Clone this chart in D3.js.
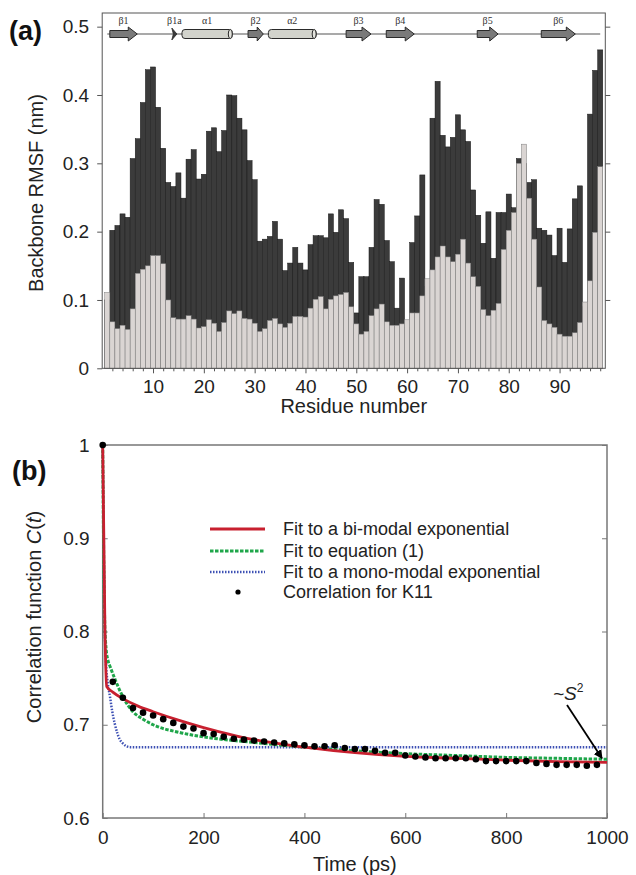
<!DOCTYPE html>
<html>
<head>
<meta charset="utf-8">
<script src="https://cdn.jsdelivr.net/npm/d3@7"></script>
<style>
  body { margin: 0; background: #fff; }
  svg { display: block; font-family: "Liberation Sans", Arial, Helvetica, sans-serif; }
</style>
</head>
<body>
<svg id="chart" width="636" height="875"></svg>
<script>
// ---------- panel (a): backbone RMSF per residue ----------
const residues = d3.range(1, 99);
const rmsfDark = [
  0.100, 0.202, 0.209, 0.226, 0.221, 0.307, 0.336, 0.389, 0.437, 0.441,
  0.382, 0.322, 0.272, 0.266, 0.286, 0.249, 0.306, 0.320, 0.277, 0.284,
  0.347, 0.352, 0.317, 0.348, 0.400, 0.399, 0.366, 0.349, 0.304, 0.276,
  0.186, 0.189, 0.193, 0.215, 0.189, 0.143, 0.154, 0.177, 0.154, 0.144,
  0.181, 0.194, 0.194, 0.191, 0.226, 0.199, 0.232, 0.219, 0.155, 0.081,
  0.134, 0.134, 0.177, 0.247, 0.240, 0.187, 0.156, 0.088, 0.132, 0.060,
  0.184, 0.223, 0.283, 0.120, 0.366, 0.420, 0.341, 0.324, 0.338, 0.371,
  0.349, 0.332, 0.261, 0.224, 0.183, 0.229, 0.161, 0.228, 0.228, 0.255,
  0.235, 0.307, 0.300, 0.272, 0.276, 0.205, 0.202, 0.195, 0.165, 0.205,
  0.155, 0.204, 0.248, 0.267, 0.090, 0.372, 0.436, 0.466
];
const rmsfLight = [
  0.111, 0.068, 0.058, 0.063, 0.057, 0.087, 0.139, 0.145, 0.150, 0.165,
  0.165, 0.153, 0.100, 0.074, 0.072, 0.072, 0.077, 0.072, 0.059, 0.061,
  0.071, 0.066, 0.054, 0.067, 0.084, 0.080, 0.084, 0.073, 0.072, 0.066,
  0.054, 0.058, 0.070, 0.073, 0.065, 0.060, 0.066, 0.076, 0.076, 0.075,
  0.088, 0.101, 0.105, 0.087, 0.101, 0.106, 0.108, 0.111, 0.090, 0.065,
  0.050, 0.054, 0.077, 0.087, 0.094, 0.068, 0.063, 0.063, 0.065, 0.071,
  0.081, 0.081, 0.106, 0.131, 0.144, 0.163, 0.179, 0.163, 0.156, 0.167,
  0.189, 0.154, 0.134, 0.120, 0.086, 0.077, 0.085, 0.095, 0.174, 0.202,
  0.228, 0.300, 0.328, 0.249, 0.189, 0.119, 0.070, 0.065, 0.060, 0.050,
  0.047, 0.047, 0.052, 0.067, 0.097, 0.128, 0.199, 0.295
];
const rmsfTicks = [0, 0.1, 0.2, 0.3, 0.4, 0.5];
const residueTicks = [10, 20, 30, 40, 50, 60, 70, 80, 90];

// secondary structure track (residue numbers)
const ssType  = ["strand", "head", "helix", "strand", "helix", "strand", "strand", "strand", "strand"];
const ssStart = [1.5, 13.7, 15.7, 28.7, 32.7, 48.0, 55.9, 73.8, 86.4];
const ssEnd   = [6.9, 14.7, 25.6, 31.7, 42.1, 52.9, 61.4, 77.9, 93.1];
const ssLabel = ["β1", "β1a", "α1", "β2", "α2", "β3", "β4", "β5", "β6"];
const ssSpan  = [1, 98];

// ---------- panel (b): correlation function ----------
const biTime = [0, 4.5, 8, 20, 40, 70, 100, 150, 200, 250, 300, 400, 500, 600, 700, 800, 900, 1000];
const biC    = [1, 0.80, 0.741, 0.735, 0.728, 0.720, 0.714, 0.705, 0.697, 0.690, 0.684, 0.676, 0.670, 0.666, 0.664, 0.662, 0.6605, 0.6597];

const eqTime = [0, 2, 4, 7, 10, 15, 25, 40, 60, 80, 100, 150, 200, 300, 400, 500, 600, 700, 800, 900, 1000];
const eqC    = [1, 0.88, 0.81, 0.78, 0.77, 0.762, 0.748, 0.730, 0.714, 0.706, 0.700, 0.692, 0.687, 0.681, 0.676, 0.672, 0.669, 0.667, 0.665, 0.664, 0.663];

const monoTime = [0, 3, 6.5, 10, 14.5, 19, 24, 29, 34, 40, 47, 55, 1000];
const monoC    = [1, 0.84, 0.766, 0.745, 0.730, 0.714, 0.701, 0.691, 0.684, 0.680, 0.677, 0.676, 0.676];

const corrTime = [0, 20, 40, 60, 80, 100, 120, 140, 160, 180, 200, 220, 240, 260, 280, 300, 320, 340, 360, 380,
  400, 420, 440, 460, 480, 500, 520, 540, 560, 580, 600, 620, 640, 660, 680, 700, 720, 740, 760, 780,
  800, 820, 840, 860, 880, 900, 920, 940, 960, 980];
const corrC = [1, 0.746, 0.729, 0.718, 0.713, 0.710, 0.706, 0.702, 0.698, 0.696, 0.691, 0.690, 0.687, 0.685, 0.684,
  0.683, 0.682, 0.681, 0.680, 0.679, 0.678, 0.677, 0.677, 0.678, 0.675, 0.674, 0.674, 0.672, 0.670, 0.670,
  0.667, 0.666, 0.665, 0.664, 0.664, 0.664, 0.664, 0.663, 0.661, 0.661, 0.661, 0.661, 0.661, 0.659, 0.658,
  0.657, 0.657, 0.657, 0.656, 0.657];
const corrTicksY = [0.6, 0.7, 0.8, 0.9, 1];
const timeTicks = [0, 200, 400, 600, 800, 1000];

const legendNames  = ["Fit to a bi-modal exponential", "Fit to equation (1)", "Fit to a mono-modal exponential", "Correlation for K11"];
const legendColors = ["#c8202f", "#1fa64a", "#3d50b4", "#000"];

// ---------- drawing ----------
const svg = d3.select("#chart");
svg.append("rect").attr("width", 636).attr("height", 875).attr("fill", "#fff");

const tickFont = 19, titleFont = 20;
const styleAxis = (g, color) => {
  g.select(".domain").remove();
  g.selectAll(".tick line").attr("stroke", color);
  g.selectAll("text").attr("font-size", tickFont).attr("fill", "#222")
    .attr("font-family", "'Liberation Sans', Arial, sans-serif");
  g.attr("font-family", null).attr("font-size", null);
};

// panel (a)
const xA = d3.scaleLinear().domain([0, 99]).range([102.2, 605.3]);
const yA = d3.scaleLinear().domain([0, 0.52]).range([368.3, 13]);
const gA = svg.append("g");

gA.append("g").selectAll("rect").data(residues).join("rect")
  .attr("x", d => xA(d - 0.5))
  .attr("width", d => xA(d + 0.5) - xA(d - 0.5))
  .attr("y", (d, i) => yA(rmsfDark[i]))
  .attr("height", (d, i) => yA(0) - yA(rmsfDark[i]))
  .attr("fill", "#3b3b3b").attr("stroke", "#161616").attr("stroke-width", 0.5);

gA.append("g").selectAll("rect").data(residues).join("rect")
  .attr("x", d => xA(d - 0.5))
  .attr("width", d => xA(d + 0.5) - xA(d - 0.5))
  .attr("y", (d, i) => yA(rmsfLight[i]))
  .attr("height", (d, i) => yA(0) - yA(rmsfLight[i]))
  .attr("fill", "#dad5d3").attr("stroke", "#7d7d7d").attr("stroke-width", 0.5);

gA.append("rect")
  .attr("x", xA(0)).attr("y", yA(0.52))
  .attr("width", xA(99) - xA(0)).attr("height", yA(0) - yA(0.52))
  .attr("fill", "none").attr("stroke", "#555").attr("stroke-width", 1);

gA.append("g").attr("transform", `translate(${xA(0)},0)`)
  .call(d3.axisLeft(yA).tickValues(rmsfTicks).tickSize(5).tickPadding(8)
    .tickFormat(d => d === 0 ? "0" : d3.format(".1f")(d)))
  .call(g => styleAxis(g, "#555"));

gA.append("g").attr("transform", `translate(${xA(99)},0)`)
  .call(d3.axisRight(yA).tickValues(rmsfTicks.slice(1)).tickSize(5).tickFormat(""))
  .call(g => styleAxis(g, "#555"));

gA.append("g").attr("transform", `translate(0,${yA(0)})`)
  .call(d3.axisBottom(xA).tickValues(d3.range(2, 99, 2).filter(d => d % 10)).tickSize(3).tickFormat(""))
  .call(g => styleAxis(g, "#555"));

gA.append("g").attr("transform", `translate(0,${yA(0)})`)
  .call(d3.axisBottom(xA).tickValues(residueTicks).tickSize(5).tickPadding(6).tickFormat(d3.format("d")))
  .call(g => styleAxis(g, "#555"));

// secondary structure track
const ssY = 34;
const ssG = gA.append("g");
ssG.append("line")
  .attr("x1", xA(ssSpan[0])).attr("x2", xA(ssSpan[1]))
  .attr("y1", ssY).attr("y2", ssY)
  .attr("stroke", "#555").attr("stroke-width", 1.2);

ssType.forEach((t, i) => {
  const x0 = xA(ssStart[i]), x1 = xA(ssEnd[i]);
  if (t === "strand") {
    const hl = Math.min(9, (x1 - x0) * 0.4);
    const p = d3.path();
    p.moveTo(x0, ssY - 3.5); p.lineTo(x1 - hl, ssY - 3.5); p.lineTo(x1 - hl, ssY - 7);
    p.lineTo(x1, ssY); p.lineTo(x1 - hl, ssY + 7); p.lineTo(x1 - hl, ssY + 3.5);
    p.lineTo(x0, ssY + 3.5); p.closePath();
    ssG.append("path").attr("d", p.toString())
      .attr("fill", "#7a7a7a").attr("stroke", "#2a2a2a").attr("stroke-width", 1);
  } else if (t === "head") {
    const p = d3.path();
    p.moveTo(x0, ssY - 6); p.lineTo(x1, ssY); p.lineTo(x0, ssY + 6);
    p.lineTo(x0 + 1.5, ssY); p.closePath();
    ssG.append("path").attr("d", p.toString())
      .attr("fill", "#3a3a3a").attr("stroke", "#2a2a2a").attr("stroke-width", 0.8);
  } else {
    ssG.append("rect")
      .attr("x", x0).attr("y", ssY - 4.5).attr("width", x1 - x0).attr("height", 9).attr("rx", 3)
      .attr("fill", "#d2d3cc").attr("stroke", "#2a2a2a").attr("stroke-width", 1);
    ssG.append("ellipse")
      .attr("cx", x1 - 2).attr("cy", ssY).attr("rx", 2).attr("ry", 4.5)
      .attr("fill", "#e4e4de").attr("stroke", "#2a2a2a").attr("stroke-width", 1);
  }
  ssG.append("text")
    .attr("x", (x0 + x1) / 2).attr("y", ssY - 10)
    .attr("text-anchor", "middle")
    .attr("font-family", "'Liberation Serif', 'DejaVu Serif', serif")
    .attr("font-size", 10).attr("fill", "#333")
    .text(ssLabel[i]);
});

gA.append("text")
  .attr("transform", "translate(38,193) rotate(-90)")
  .attr("text-anchor", "middle").attr("dominant-baseline", "middle")
  .attr("font-size", titleFont).attr("fill", "#222")
  .text("Backbone RMSF (nm)");

gA.append("text")
  .attr("x", (xA(0) + xA(99)) / 2).attr("y", 413)
  .attr("text-anchor", "middle")
  .attr("font-size", titleFont).attr("fill", "#222")
  .text("Residue number");

gA.append("text")
  .attr("x", 9).attr("y", 40)
  .attr("font-size", 27).attr("font-weight", "bold").attr("fill", "#111")
  .text("(a)");

// panel (b)
const xB = d3.scaleLinear().domain([0, 1000]).range([102.7, 607]);
const yB = d3.scaleLinear().domain([0.6, 1]).range([818, 445]);
const gB = svg.append("g");

gB.append("rect")
  .attr("x", xB(0)).attr("y", yB(1))
  .attr("width", xB(1000) - xB(0)).attr("height", yB(0.6) - yB(1))
  .attr("fill", "none").attr("stroke", "#777").attr("stroke-width", 1.5);

gB.append("g").attr("transform", `translate(${xB(0)},0)`)
  .call(d3.axisLeft(yB).tickValues(corrTicksY).tickSize(-5).tickPadding(13)
    .tickFormat(d => d === 1 ? "1" : d3.format(".1f")(d)))
  .call(g => styleAxis(g, "#777"));

gB.append("g").attr("transform", `translate(${xB(1000)},0)`)
  .call(d3.axisRight(yB).tickValues(corrTicksY).tickSize(-5).tickFormat(""))
  .call(g => styleAxis(g, "#777"));

gB.append("g").attr("transform", `translate(0,${yB(0.6)})`)
  .call(d3.axisBottom(xB).tickValues(timeTicks).tickSize(-5).tickPadding(13).tickFormat(d3.format("d")))
  .call(g => styleAxis(g, "#777"));

const lineB = (ts, cs) => d3.line()
  .x((d, i) => xB(ts[i])).y((d, i) => yB(cs[i]))
  .curve(d3.curveMonotoneX)(ts);

gB.append("path").attr("d", lineB(monoTime, monoC))
  .attr("fill", "none").attr("stroke", legendColors[2]).attr("stroke-width", 2.5)
  .attr("stroke-dasharray", "1.5,1.5");
gB.append("path").attr("d", lineB(eqTime, eqC))
  .attr("fill", "none").attr("stroke", legendColors[1]).attr("stroke-width", 3)
  .attr("stroke-dasharray", "3.5,1.5");
gB.append("path").attr("d", lineB(biTime, biC))
  .attr("fill", "none").attr("stroke", legendColors[0]).attr("stroke-width", 2.8);

gB.append("g").selectAll("circle").data(corrTime).join("circle")
  .attr("cx", d => xB(d)).attr("cy", (d, i) => yB(corrC[i]))
  .attr("r", 3.3).attr("fill", "#000");

// legend
const legY = [529, 551, 572, 592];
const leg = gB.append("g");
leg.append("line").attr("x1", 210).attr("x2", 265).attr("y1", legY[0]).attr("y2", legY[0])
  .attr("stroke", legendColors[0]).attr("stroke-width", 3);
leg.append("line").attr("x1", 210).attr("x2", 265).attr("y1", legY[1]).attr("y2", legY[1])
  .attr("stroke", legendColors[1]).attr("stroke-width", 3).attr("stroke-dasharray", "3.5,1.5");
leg.append("line").attr("x1", 210).attr("x2", 265).attr("y1", legY[2]).attr("y2", legY[2])
  .attr("stroke", legendColors[2]).attr("stroke-width", 2.5).attr("stroke-dasharray", "1.5,1.5");
leg.append("circle").attr("cx", 238).attr("cy", legY[3]).attr("r", 2.6).attr("fill", "#000");
leg.selectAll("text").data(legendNames).join("text")
  .attr("x", 283).attr("y", (d, i) => legY[i])
  .attr("dominant-baseline", "central")
  .attr("font-size", 18).attr("fill", "#222")
  .text(d => d);

// ~S^2 annotation
const ann = gB.append("text").attr("x", 553).attr("y", 700)
  .attr("font-size", 19).attr("font-style", "italic").attr("fill", "#222");
ann.append("tspan").text("~S");
ann.append("tspan").attr("font-size", 12).attr("dy", -8).attr("font-style", "normal").text("2");

svg.append("defs").append("marker")
  .attr("id", "arrowHead").attr("viewBox", "0 0 10 10")
  .attr("refX", 9).attr("refY", 5)
  .attr("markerWidth", 5).attr("markerHeight", 5).attr("orient", "auto")
  .append("path").attr("d", "M0,0 L10,5 L0,10 z").attr("fill", "#000");
gB.append("line")
  .attr("x1", 567).attr("y1", 705).attr("x2", xB(990)).attr("y2", yB(0.664))
  .attr("stroke", "#000").attr("stroke-width", 1.8)
  .attr("marker-end", "url(#arrowHead)");

gB.append("text")
  .attr("transform", "translate(36,617) rotate(-90)")
  .attr("text-anchor", "middle").attr("dominant-baseline", "middle")
  .attr("font-size", titleFont).attr("fill", "#222")
  .call(t => {
    t.append("tspan").text("Correlation function ");
    t.append("tspan").attr("font-style", "italic").text("C");
    t.append("tspan").text("(");
    t.append("tspan").attr("font-style", "italic").text("t");
    t.append("tspan").text(")");
  });

gB.append("text")
  .attr("x", (xB(0) + xB(1000)) / 2).attr("y", 871)
  .attr("text-anchor", "middle")
  .attr("font-size", titleFont).attr("fill", "#222")
  .text("Time (ps)");

gB.append("text")
  .attr("x", 12).attr("y", 480)
  .attr("font-size", 27).attr("font-weight", "bold").attr("fill", "#111")
  .text("(b)");
</script>
</body>
</html>
